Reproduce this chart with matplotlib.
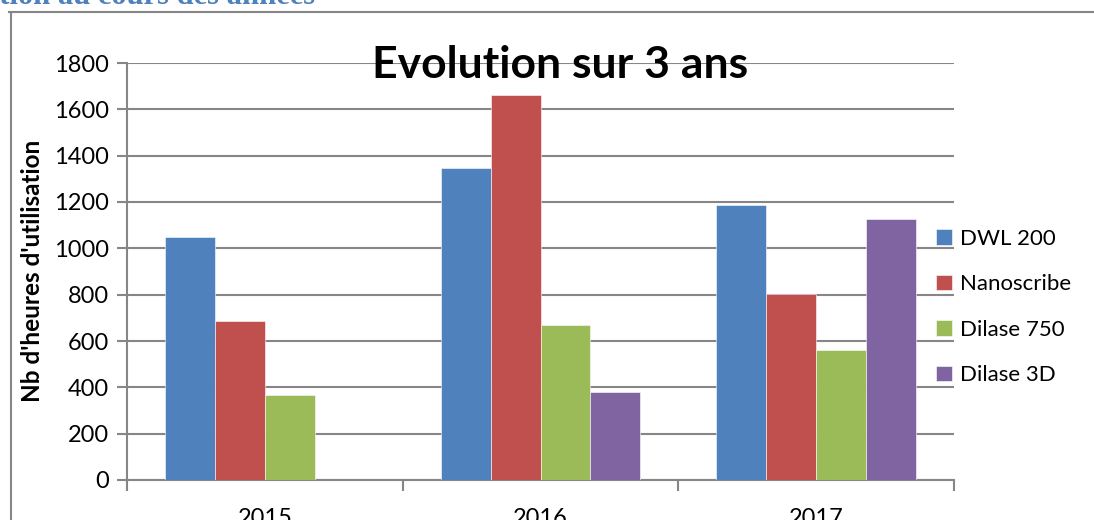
import matplotlib.pyplot as plt
import numpy as np
from matplotlib.lines import Line2D

# --- données ---
years = ["2015", "2016", "2017"]
series = ["DWL 200", "Nanoscribe", "Dilase 750", "Dilase 3D"]
dwl200 = [1050, 1347, 1187]
nanoscribe = [686, 1662, 803]
dilase750 = [368, 669, 561]
dilase3d = [np.nan, 380, 1126]
colors = ["#4F81BD", "#C0504D", "#9BBB59", "#8064A2"]

values = [dwl200, nanoscribe, dilase750, dilase3d]
grey = "#868686"
font = "Lato"

fig = plt.figure(figsize=(10.94, 5.2), dpi=100)
ax = fig.add_axes([127 / 1094, 40 / 520, 827 / 1094, 417 / 520])

x = np.arange(len(years))
w = 0.181
for i, (name, vals) in enumerate(zip(series, values)):
    ax.bar(x + (i - 1.5) * w, vals, width=w, color=colors[i], label=name,
           edgecolor="white", linewidth=0.4, zorder=3)

ax.set_xlim(-0.5, 2.5)
ax.set_ylim(0, 1800)
ax.set_yticks(np.arange(0, 1801, 200))
ax.yaxis.grid(True, color=grey, linewidth=1.5, zorder=0)

# ticks aux limites des catégories, étiquettes au centre
ax.set_xticks([-0.5, 0.5, 1.5, 2.5])
ax.set_xticklabels([])
ax.set_xticks(x, minor=True)
ax.set_xticklabels(years, minor=True, fontsize=17, family=font)
ax.tick_params(axis="x", which="major", length=8, width=1.5, color=grey, direction="out")
ax.tick_params(axis="x", which="minor", length=0, pad=20)
ax.tick_params(axis="y", length=7, width=1.5, color=grey, labelsize=17, pad=6)
for lab in ax.get_yticklabels():
    lab.set_family(font)

for s in ["top", "right"]:
    ax.spines[s].set_visible(False)
for s in ["left", "bottom"]:
    ax.spines[s].set_color(grey)
    ax.spines[s].set_linewidth(1.5)

fig.text(560 / 1094, 1 - 78 / 520, "Evolution sur 3 ans",
         ha="center", va="baseline", fontsize=32, fontweight="bold", family=font, zorder=5)
fig.text(33 / 1094, 1 - 271 / 520, "Nb d'heures d'utilisation", rotation=90,
         ha="center", va="center", fontsize=17.5, fontweight="bold", family=font)

ax.legend(loc="center left", bbox_to_anchor=(916 / 1094, 1 - 307 / 520),
          bbox_transform=fig.transFigure, frameon=False,
          prop={"family": font, "size": 16},
          handlelength=0.7, handleheight=0.7, handletextpad=0.4, labelspacing=1.15)

# cadre du graphique et titre de section coupé
fig.add_artist(Line2D([11 / 1094, 11 / 1094], [0, 1 - 12 / 520], color=grey, lw=1.5))
fig.add_artist(Line2D([9 / 1094, 1], [1 - 12 / 520, 1 - 12 / 520], color=grey, lw=1.5))
fig.text(315 / 1094, 1 - 4 / 520, "Evolution au cours des années", ha="right",
         va="baseline", fontsize=22, fontweight="bold", family="Liberation Serif",
         color="#4F81BD")

plt.savefig("out.png", dpi=100)
